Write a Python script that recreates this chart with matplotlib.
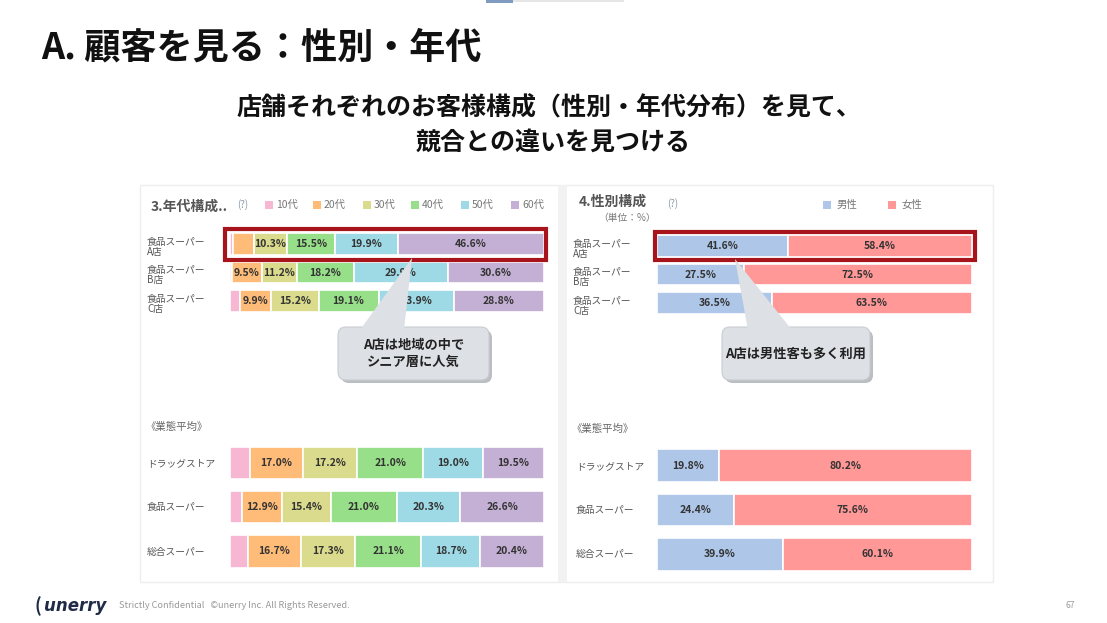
import numpy as np
import matplotlib.pyplot as plt
from matplotlib.patches import Rectangle, FancyBboxPatch, Polygon

plt.rcParams['font.family'] = ['Noto Sans CJK JP', 'DejaVu Sans']

W, H = 1107, 623

# --- data ---
age_groups = ['10代', '20代', '30代', '40代', '50代', '60代']
age_colors = ['#f7b6d2', '#ffbb78', '#dbdb8d', '#98df8a', '#9edae5', '#c5b0d5']
gender_groups = ['男性', '女性']
gender_colors = ['#aec7e8', '#ff9896']

stores = ['食品スーパー\nA店', '食品スーパー\nB店', '食品スーパー\nC店']
formats = ['ドラッグストア', '食品スーパー', '総合スーパー']

age_10 = [0.8, 0.6, 3.1]
age_20 = [6.9, 9.5, 9.9]
age_30 = [10.3, 11.2, 15.2]
age_40 = [15.5, 18.2, 19.1]
age_50 = [19.9, 29.9, 23.9]
age_60 = [46.6, 30.6, 28.8]

avg_age_10 = [6.3, 3.8, 5.8]
avg_age_20 = [17.0, 12.9, 16.7]
avg_age_30 = [17.2, 15.4, 17.3]
avg_age_40 = [21.0, 21.0, 21.1]
avg_age_50 = [19.0, 20.3, 18.7]
avg_age_60 = [19.5, 26.6, 20.4]

male = [41.6, 27.5, 36.5]
female = [58.4, 72.5, 63.5]
avg_male = [19.8, 24.4, 39.9]
avg_female = [80.2, 75.6, 60.1]


def rect(x0, y0, x1, y1):
    # pixel box -> figure fraction
    return [x0 / W, 1 - y1 / H, (x1 - x0) / W, (y1 - y0) / H]


fig = plt.figure(figsize=(W / 100, H / 100), dpi=100)

bg = fig.add_axes([0, 0, 1, 1], zorder=-5)
bg.set_xlim(0, W)
bg.set_ylim(H, 0)
bg.axis('off')
bg.add_patch(Rectangle((140, 185), 853, 397, facecolor='white', edgecolor='#eeeeee', lw=1))
bg.add_patch(Rectangle((558, 185), 9, 397, facecolor='#f2f2f2', edgecolor='none'))


def stacked(box, cols, colors, bar_h, min_label=8):
    ax = fig.add_axes(rect(*box))
    vals = np.array(cols).T
    n = vals.shape[0]
    y = np.arange(n)
    left = np.zeros(n)
    for j in range(vals.shape[1]):
        v = vals[:, j]
        ax.barh(y, v, left=left, height=bar_h, color=colors[j],
                edgecolor='white', linewidth=1.2)
        for i in range(n):
            if v[i] >= min_label:
                ax.text(left[i] + v[i] / 2, y[i], f'{v[i]:.1f}%', ha='center', va='center',
                        fontsize=7.5, fontweight='bold', color='#333333')
        left += v
    ax.set_xlim(0, 100)
    ax.set_ylim(n - 0.5, -0.5)
    ax.axis('off')
    return ax


stacked((230, 229.75, 544, 315.25),
        [age_10, age_20, age_30, age_40, age_50, age_60], age_colors, 0.76)
stacked((230, 441, 544, 573.5),
        [avg_age_10, avg_age_20, avg_age_30, avg_age_40, avg_age_50, avg_age_60], age_colors, 0.73)
stacked((657, 231.75, 972, 317.25), [male, female], gender_colors, 0.74)
stacked((657, 443.5, 972, 576.5), [avg_male, avg_female], gender_colors, 0.73)

ov = fig.add_axes([0, 0, 1, 1], zorder=10)
ov.set_xlim(0, W)
ov.set_ylim(H, 0)
ov.axis('off')
ov.patch.set_alpha(0)

# top decoration
ov.add_patch(Rectangle((486, 0), 27, 3, facecolor='#7f9cc0', edgecolor='none'))
ov.add_patch(Rectangle((513, 0), 111, 2, facecolor='#e6e6e6', edgecolor='none'))

# titles
ov.text(41, 48, 'A. 顧客を見る：性別・年代', fontsize=26, fontweight='bold', va='center', color='#111111')
ov.text(549, 108, '店舗それぞれのお客様構成（性別・年代分布）を見て、', fontsize=18, fontweight='bold',
        ha='center', va='center', color='#111111')
ov.text(553, 143, '競合との違いを見つける', fontsize=18, fontweight='bold',
        ha='center', va='center', color='#111111')

# left panel header + legend
ov.text(151, 207, '3.年代構成..', fontsize=10, fontweight='bold', va='center', color='#555555')
ov.text(237, 205, '(?)', fontsize=7, va='center', color='#8899aa')
leg_x = [265, 313, 363, 411, 461, 511]
for lx, lab, c in zip(leg_x, age_groups, age_colors):
    ov.add_patch(Rectangle((lx, 201), 8, 8, facecolor=c, edgecolor='none'))
    ov.text(lx + 11, 205, lab, fontsize=7.5, va='center', color='#777777')

# right panel header + legend
ov.text(579, 202, '4.性別構成', fontsize=10, fontweight='bold', va='center', color='#555555')
ov.text(598, 218, '（単位：%）', fontsize=7, va='center', color='#777777')
ov.text(667, 204, '(?)', fontsize=7, va='center', color='#8899aa')
for lx, lab, c in zip([823, 888], gender_groups, gender_colors):
    ov.add_patch(Rectangle((lx, 201), 8, 8, facecolor=c, edgecolor='none'))
    ov.text(lx + 14, 205, lab, fontsize=7.5, va='center', color='#777777')

# row labels
for yc, lab in zip([247, 275.5, 304], stores):
    ov.text(147, yc, lab, fontsize=7, va='center', color='#555555', linespacing=1.0)
for yc, lab in zip([249, 277.5, 306], stores):
    ov.text(573, yc, lab, fontsize=7, va='center', color='#555555', linespacing=1.0)
ov.text(145, 427, '《業態平均》', fontsize=7.5, va='center', color='#666666')
ov.text(571, 429, '《業態平均》', fontsize=7.5, va='center', color='#666666')
for yc, lab in zip([463, 507, 551.5], formats):
    ov.text(147, yc, lab, fontsize=7, va='center', color='#555555')
for yc, lab in zip([466, 510, 554.5], formats):
    ov.text(576, yc, lab, fontsize=7, va='center', color='#555555')

# highlight boxes
ov.add_patch(Rectangle((224.5, 228.5), 321.5, 31.5, fill=False, edgecolor='#a8141b', lw=3))
ov.add_patch(Rectangle((655, 232), 320, 28, fill=False, edgecolor='#a8141b', lw=3))

# callouts
def callout(x0, y0, x1, y1, tip, base, lines):
    ov.add_patch(FancyBboxPatch((x0 + 3, y0 + 3), x1 - x0, y1 - y0,
                                boxstyle='round,pad=0,rounding_size=8',
                                facecolor='#a9adb3', edgecolor='none', alpha=0.8))
    ov.add_patch(FancyBboxPatch((x0, y0), x1 - x0, y1 - y0,
                                boxstyle='round,pad=0,rounding_size=8',
                                facecolor='#dde0e4', edgecolor='#c9cdd2', lw=0.8))
    ov.add_patch(Polygon([tip, (base[0], y0 + 3), (base[1], y0 + 3)], closed=True,
                         facecolor='#dde0e4', edgecolor='none'))
    ov.text((x0 + x1) / 2, (y0 + y1) / 2, lines, fontsize=9.5, fontweight='bold',
            ha='center', va='center', color='#222222', linespacing=1.3)


callout(338, 327, 489, 380, (412, 258), (360, 404), 'A店は地域の中で\nシニア層に人気')
callout(722, 327, 870, 380, (735, 259), (748, 792), 'A店は男性客も多く利用')

# footer
ov.text(35, 606, '(', fontsize=13, fontweight='bold', va='center', color='#1f2b47')
ov.text(44, 606, 'unerry', fontsize=12, fontweight='bold', style='italic', va='center',
        color='#1f2b47', family='DejaVu Sans')
ov.text(119, 606, 'Strictly Confidential   ©unerry Inc. All Rights Reserved.', fontsize=6.6,
        va='center', color='#999999')
ov.text(1066, 606, '67', fontsize=6, va='center', color='#999999')

fig.savefig('out.png', dpi=100, facecolor='white')
